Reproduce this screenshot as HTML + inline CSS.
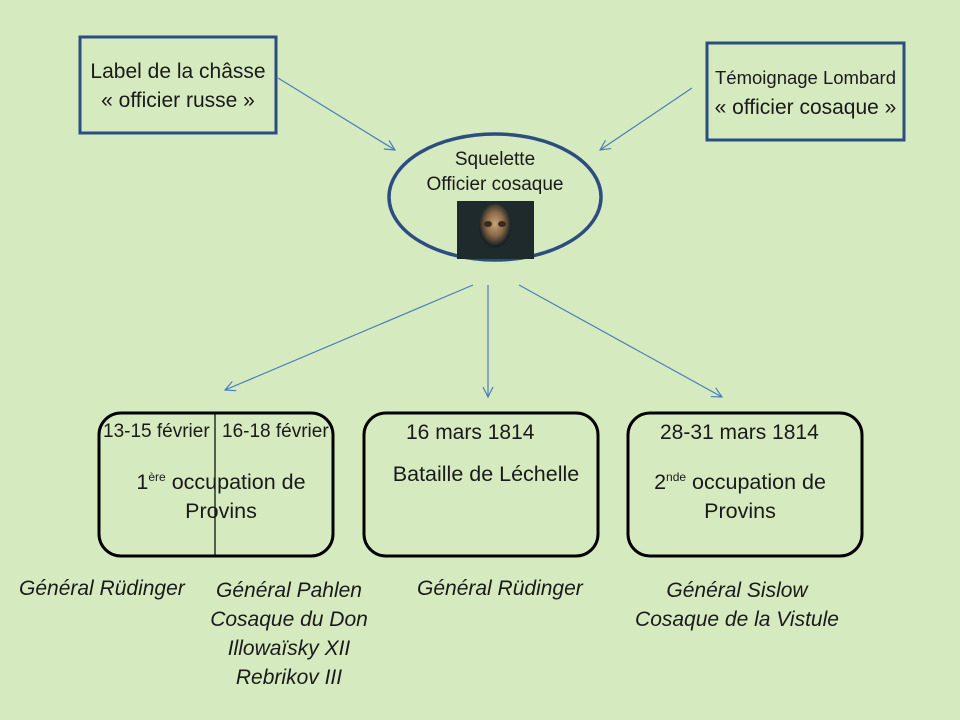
<!DOCTYPE html>
<html><head><meta charset="utf-8"><style>
html,body{margin:0;padding:0}
body{width:960px;height:720px;background:#d6eac0;position:relative;overflow:hidden;font-family:"Liberation Sans",sans-serif;color:#1a1a1a}
.t{position:absolute;white-space:nowrap;text-align:center}
.i{font-style:italic;font-size:21px}
</style></head><body>
<svg width="960" height="720" style="position:absolute;left:0;top:0">
<defs><marker id="a" markerWidth="12" markerHeight="12" refX="11" refY="6" orient="auto" markerUnits="userSpaceOnUse"><path d="M1,1 L11,6 L1,11" fill="none" stroke="#4a7ebb" stroke-width="1.2"/></marker></defs>
<rect x="80" y="37" width="196" height="96" fill="none" stroke="#2c4d80" stroke-width="3"/>
<rect x="707" y="43" width="197" height="97" fill="none" stroke="#2c4d80" stroke-width="3"/>
<ellipse cx="495" cy="197" rx="106" ry="63" fill="none" stroke="#2c4d80" stroke-width="3.5"/>
<rect x="99" y="413" width="234" height="143" rx="22" fill="none" stroke="#000" stroke-width="3"/>
<rect x="364" y="413" width="234" height="143" rx="22" fill="none" stroke="#000" stroke-width="3"/>
<rect x="628" y="413" width="234" height="143" rx="22" fill="none" stroke="#000" stroke-width="3"/>
<line x1="215" y1="413" x2="215" y2="556" stroke="#000" stroke-width="1.2"/>
<g stroke="#4a7ebb" stroke-width="1.2" fill="none" marker-end="url(#a)">
<line x1="278" y1="78" x2="395" y2="150"/>
<line x1="692" y1="88" x2="600" y2="150"/>
<line x1="473" y1="285" x2="225" y2="390"/>
<line x1="488" y1="285" x2="488" y2="397"/>
<line x1="519" y1="285" x2="722" y2="397"/>
</g>
<defs><radialGradient id="s" cx="50%" cy="45%" r="50%"><stop offset="0" stop-color="#c9a27a"/><stop offset="0.55" stop-color="#8a6a48"/><stop offset="1" stop-color="#1a2226"/></radialGradient></defs>
<rect x="457" y="201" width="77" height="58" fill="#1e2a2c"/>
<ellipse cx="495" cy="226" rx="16" ry="22" fill="url(#s)"/>
<ellipse cx="488" cy="224" rx="4" ry="3" fill="#3a2a1c"/><ellipse cx="502" cy="224" rx="4" ry="3" fill="#3a2a1c"/>
</svg>
<div class="t" style="left:80px;width:196px;top:57px;font-size:21px;line-height:29px">Label de la châsse<br>« officier russe »</div>
<div class="t" style="left:707px;width:197px;top:64px;line-height:28px"><span style="font-size:18.5px">Témoignage Lombard</span><br><span style="font-size:21px">« officier cosaque »</span></div>
<div class="t" style="left:390px;width:210px;top:147px;font-size:19px;line-height:25px">Squelette<br>Officier cosaque</div>
<div class="t" style="left:103px;top:421px;font-size:19px">13-15 février</div>
<div class="t" style="left:222px;top:421px;font-size:19px">16-18 février</div>
<div class="t" style="left:99px;width:244px;top:463px;font-size:21.5px;line-height:29px">1<sup style="font-size:12px">ère</sup> occupation de<br>Provins</div>
<div class="t" style="left:406px;top:421px;font-size:21px">16 mars 1814</div>
<div class="t" style="left:364px;width:244px;top:462px;font-size:21.5px">Bataille de Léchelle</div>
<div class="t" style="left:660px;top:421px;font-size:21px">28-31 mars 1814</div>
<div class="t" style="left:618px;width:244px;top:463px;font-size:21.5px;line-height:29px">2<sup style="font-size:12px">nde</sup> occupation de<br>Provins</div>
<div class="t i" style="left:19px;top:577px">Général Rüdinger</div>
<div class="t i" style="left:189px;width:200px;top:576px;line-height:29px">Général Pahlen<br>Cosaque du Don<br>Illowaïsky XII<br>Rebrikov III</div>
<div class="t i" style="left:417px;top:577px">Général Rüdinger</div>
<div class="t i" style="left:617px;width:240px;top:576px;line-height:29px">Général Sislow<br>Cosaque de la Vistule</div>
</body></html>
